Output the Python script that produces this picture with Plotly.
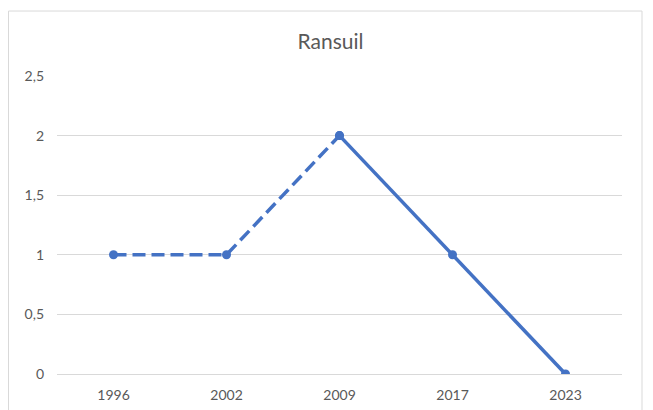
import plotly.graph_objects as go

# Ransuil counts per survey year
years = ["1996", "2002", "2009", "2017", "2023"]
values = [1, 1, 2, 1, 0]
# first three points joined with a dashed line, the rest solid
dashed_upto = 3

y_ticks = [0, 0.5, 1, 1.5, 2, 2.5]

blue = "#4472C4"
grid = "#D9D9D9"
text = "#595959"

fig = go.Figure()

fig.add_trace(
    go.Scatter(
        x=years[:dashed_upto],
        y=values[:dashed_upto],
        mode="lines+markers",
        line=dict(color=blue, width=3.5, dash="13px,6px"),
        marker=dict(size=9, color=blue),
        showlegend=False,
    )
)
fig.add_trace(
    go.Scatter(
        x=years[dashed_upto - 1:],
        y=values[dashed_upto - 1:],
        mode="lines+markers",
        line=dict(color=blue, width=3.5),
        marker=dict(size=9, color=blue),
        showlegend=False,
    )
)

# --- chart frame (Excel style) ---
fig.add_shape(
    type="rect", xref="paper", yref="paper",
    x0=-0.0858, x1=1.0354, y0=-0.2, y1=1.218,
    line=dict(color=grid, width=1), layer="below",
)

# page body adds 8px around the figure, so the figure is 8px smaller
fig.update_layout(
    width=645,
    height=402,
    margin=dict(l=49, r=31, t=68, b=36),
    paper_bgcolor="white",
    plot_bgcolor="white",
    separators=",.",
    font=dict(family="Lato, Liberation Sans, sans-serif", color=text, size=14),
    title=dict(
        text="Ransuil",
        x=0.5, xanchor="center",
        y=1 - 34 / 402, yanchor="middle",
        font=dict(size=21, color=text),
    ),
)
fig.update_xaxes(
    type="category",
    range=[-0.5, 4.5],
    showgrid=False,
    showline=False,
    ticks="",
    ticklabelstandoff=11,
    automargin=False,
    fixedrange=True,
)
fig.update_yaxes(
    range=[0, 2.5],
    tickvals=y_ticks,
    showgrid=True,
    gridcolor=grid,
    gridwidth=1,
    zeroline=True,
    zerolinecolor=grid,
    zerolinewidth=1,
    showline=False,
    ticks="",
    ticklabelstandoff=12,
    automargin=False,
    fixedrange=True,
)

fig.write_html("out.html")
